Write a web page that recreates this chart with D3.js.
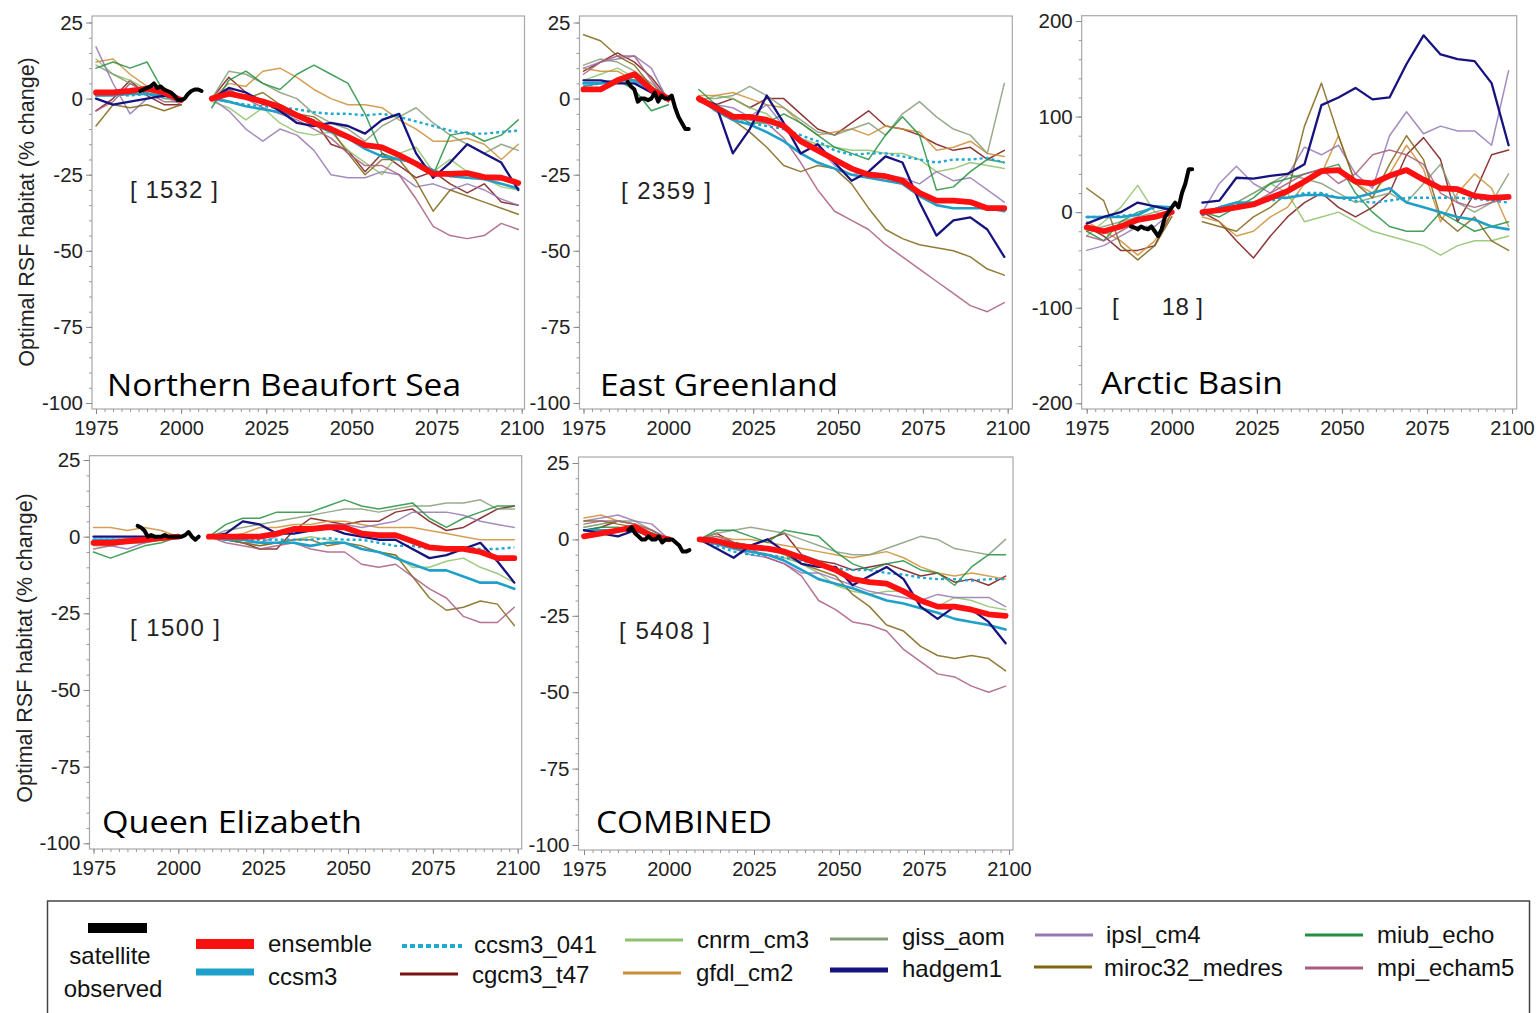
<!DOCTYPE html>
<html><head><meta charset="utf-8">
<script src="https://cdn.jsdelivr.net/npm/d3@7"></script>
<style>body{margin:0;background:#fff}svg{display:block}</style>
</head><body>
<svg id="chart" width="1537" height="1013"></svg>
<script>
// ---------------- DATA ----------------
const histYears = [1975, 1980, 1985, 1990, 1995, 2000];
const futYears = [2009, 2014, 2019, 2024, 2029, 2034, 2039, 2044, 2049, 2054, 2059, 2064, 2069, 2074, 2079, 2084, 2089, 2094, 2099];
const satYears = [1988, 1989, 1990, 1991, 1992, 1993, 1994, 1995, 1996, 1997, 1998, 1999, 2000, 2001, 2002, 2003, 2004, 2005, 2006];
const xTicks = [1975, 2000, 2025, 2050, 2075, 2100];
const yTicksPct = [-100, -75, -50, -25, 0, 25];
const yTicksArctic = [-200, -100, 0, 100, 200];

const seriesNames = ["ensemble", "ccsm3", "ccsm3_041", "cgcm3_t47", "cnrm_cm3", "gfdl_cm2", "giss_aom", "hadgem1", "ipsl_cm4", "miroc32_medres", "miub_echo", "mpi_echam5"];
const seriesColors = ["#ff1010", "#1ea0c8", "#1ea8d2", "#7a1414", "#8dc26a", "#cc8e34", "#869c78", "#17137e", "#9478b4", "#7f6414", "#22903e", "#a85c7e"];

const panelTitles = ["Northern Beaufort Sea", "East Greenland", "Arctic Basin", "Queen Elizabeth", "COMBINED"];
const panelCounts = ["[ 1532 ]", "[ 2359 ]", "[      18 ]", "[ 1500 ]", "[ 5408 ]"];

// Northern Beaufort Sea (hist 6 values, then future 19 values)
const nbs_ensemble = [2,2,2.5,3.3,2,-0.5, 0,1.6,0.5,-1,-2.7,-5.5,-8,-10,-12.6,-15.3,-16,-18.6,-21.4,-24.7,-24.7,-24.5,-25.8,-26,-27.7];
const nbs_ccsm3 = [1,1,1.5,1.5,1,0, 0,-1,-2.5,-3.5,-4.5,-6,-8.5,-11,-13,-16.5,-19,-20,-21,-23.5,-25.5,-26,-26.5,-28,-29.5];
const nbs_ccsm3_041 = [1,1.5,1,1.5,0.5,0, 0,-1,-2,-2.5,-3,-3.5,-4.5,-5,-5,-5.5,-5,-6,-7.5,-9,-10.5,-11.5,-11.5,-11,-10.5];
const nbs_cgcm3_t47 = [-4,0,6,1,-2,-2, 0,7,2,-2,-2,-5,-7,-15,-17,-24,-18,-22,-26,-24,-28,-31,-28,-34,-35];
const nbs_cnrm_cm3 = [13,8,6,3,0,-1, -1,-3,-7,-3,-8,-11,-12,-11,-17,-21,-25,-18,-16,-24,-20,-24,-26,-29,-30];
const nbs_gfdl_cm2 = [12,13,8,4,3,0, 0,5,4,9,10,7,3,0,-2,-2,-3,-7,-10,-14,-14,-13,-15,-20,-15];
const nbs_giss_aom = [11,8,5,2,0,0, 0,9,8,5,2,0,-5,-8,-10,-14,-9,-6,-3,-8,-12,-15,-18,-15,-17];
const nbs_hadgem1 = [0,-2,-1,0,1,0, 0,3.5,2,-1,-4,-8,-9,-8,-9,-11.5,-7,-5,-18,-26,-21,-15,-18,-21,-30];
const nbs_ipsl_cm4 = [17,5,-5,0,1,-2, 0,-4,-10,-14,-10,-12,-17,-25,-26,-26,-24,-25,-29,-28,-30,-28,-30,-33,-35];
const nbs_miroc32_medres = [-9,-2,-3,-2,-4,-2, 0,3,0,2,-2,-5,-6,-10,-18,-25,-20,-20,-27,-37,-30,-32,-34,-36,-38];
const nbs_miub_echo = [10,12,10,12,2,-1, -3,6,9,5,3,8,11,8,5,-5,-18,-20,-21,-25,-12,-11,-14,-12,-7];
const nbs_mpi_echam5 = [-4,-1,5,2,-1,-1, 0,3,0,-3,-5,-7,-10,-13,-18,-22,-22,-25,-33,-42,-45,-46,-45,-41,-43];
const nbs_satellite = [2.5,3,3.5,4,5,3.5,4,3,2.5,2,1,-0.5,-0.5,0,1.5,2.5,3,3,2.5];

// East Greenland
const eg_ensemble = [3,3,6,8,3,0, 0,-3,-6,-6,-7,-9,-14,-17,-20,-23,-25,-25.5,-27,-31,-33.5,-33.5,-34,-36,-36];
const eg_ccsm3 = [5,5,6,6,3,0, 0,-4,-7,-8.5,-11,-14,-18,-21,-23,-25,-26,-27,-28,-32,-35,-36,-36,-36,-37];
const eg_ccsm3_041 = [4,5,6,6,3,0, 0,-4,-7,-8,-9,-10,-12,-14,-17,-18.5,-18,-18,-19,-20,-21,-20,-20,-19.5,-21];
const eg_cgcm3_t47 = [9,12,15,12,7,0, 0,-2,0,-3,0,0,-5,-10,-12,-8,-4,-9,-10,-12,-15,-17,-16,-20,-17];
const eg_cnrm_cm3 = [6,8,10,7,2,-1, -1,1,0,-3,-5,-10,-13,-15,-16,-17,-17,-18,-18,-20,-24,-23,-21,-22,-23];
const eg_gfdl_cm2 = [10,9,9,6,4,0, 1,1,2,0,-2,-3,-8,-12,-11,-10,-12,-9,-10,-11,-17,-16,-14,-18,-19];
const eg_giss_aom = [11,13,12,9,5,0, 0,0,1,4,1,-3,-7,-11,-12,-10,-8,-12,-5,-1,-6,-10,-12,-18,5];
const eg_hadgem1 = [6,6,5,5,2,0, 0,-2,-18,-10,1,-8,-18,-15,-21,-27,-24,-19,-21,-34,-45,-40,-39,-43,-52];
const eg_ipsl_cm4 = [10,12,13,14,10,-1, 0,-2,-3,-6,-2,-9,-13,-16,-22,-25,-24,-25,-26,-28,-24,-27,-26,-30,-34];
const eg_miroc32_medres = [21,19,14,11,4,-1, 0,-3,-7,-11,-16,-22,-24,-22,-23,-28,-36,-43,-46,-48,-49,-50,-52,-56,-58];
const eg_miub_echo = [4,5,6,3,-4,-2, 3,-2,-5,-8,-8,-5,-8,-12,-16,-18,-20,-12,-6,-12,-30,-29,-24,-20,-21];
const eg_mpi_echam5 = [8,12,14,14,6,-1, -1,-3,-6,-7,-8,-13,-21,-30,-37,-40,-43,-48,-52,-56,-60,-64,-68,-70,-67];
const eg_satellite = [5.5,4,3,-1,0,0,-0.5,0,2,-1,1,0,0,1,-3,-6,-8,-10,-10];

// Arctic Basin
const ab_ensemble = [-16,-20,-15,-8,-5,0, 0,2,5,8,15,22,32,43,44,32,30,38,44,34,25,24,17,15,16];
const ab_ccsm3 = [-5,-5,-5,-3,6,5, -3,5,10,10,15,15,18,18,15,15,20,25,10,5,0,-5,-8,-15,-18];
const ab_ccsm3_041 = [-5,-5,-4,-2,5,5, -3,5,8,10,12,15,20,20,15,12,10,12,15,15,15,15,14,12,10];
const ab_cgcm3_t47 = [-15,-25,-40,-40,-35,0, 0,-10,-30,-48,-25,-5,10,20,5,-5,5,20,60,78,55,-10,20,60,65];
const ab_cnrm_cm3 = [-25,-10,5,28,0,-5, 0,0,10,20,30,20,-10,-5,0,-10,-20,-25,-30,-35,-45,-35,-30,-30,-25];
const ab_gfdl_cm2 = [-10,-20,-30,-45,-30,0, -5,-10,-25,-20,-5,5,30,40,80,30,20,40,70,45,-10,20,40,25,-15];
const ab_giss_aom = [-20,-15,-10,-5,0,5, 0,5,10,20,30,40,35,30,20,10,15,20,10,30,50,10,0,10,40];
const ab_hadgem1 = [-12,-5,0,10,6,2, 10,12,36,35,38,40,50,112,120,130,118,120,155,185,165,160,158,135,70];
const ab_ipsl_cm4 = [-40,-35,-25,-15,-15,0, 0,30,48,30,20,38,68,60,70,40,25,80,105,82,90,85,85,70,148];
const ab_miroc32_medres = [25,12,-35,-50,-35,-5, -10,-15,-20,-5,5,20,90,135,80,30,15,50,80,55,-5,-20,-5,-30,-40];
const ab_miub_echo = [-20,-30,-10,0,5,5, 0,-5,5,15,30,35,40,45,50,20,0,-15,-20,-20,0,-10,-20,-15,-10];
const ab_mpi_echam5 = [-25,-30,-20,-10,-5,0, 0,5,5,10,20,30,40,45,30,40,60,65,60,50,20,10,5,10,15];
const ab_satellite = [-15,-16,-18,-15,-17,-18,-15,-20,-25,-18,-5,0,5,10,5,20,30,45,45];

// Queen Elizabeth
const qe_ensemble = [-2,-2,-1.5,-1,-0.5,0, 0,0,0,0,1,2.5,2.5,3,3,1,0.5,0.5,-1.5,-3.5,-4,-4,-5,-7,-7];
const qe_ccsm3 = [-1,-1,-1,-1,0,0, 0,-1,-1,-2,-2,-2,-3,-2,-2,-4,-5,-7,-9,-11,-11,-13,-15,-15,-17];
const qe_ccsm3_041 = [-1,-1,-1,-0.5,0,0, 0,-0.5,-1,-1,-1,-1,-1,-0.5,-1,-1,-2,-3,-3,-4,-3.5,-3.5,-4,-4,-3.5];
const qe_cgcm3_t47 = [-1,-2,-1,0,-1,0, 0,-1,-2,-4,-4,2,6,5,4,5,5,8,9,5,2,3,6,9,10];
const qe_cnrm_cm3 = [-3,-3,-2,-2,-1,0, 0,-1,-2,-3,-2,-1,0,-1,-2,-4,-5,-6,-10,-10,-8,-7,-10,-12,-15];
const qe_gfdl_cm2 = [3,3,2,3,2,0, 0,0,1,3,3,4,4,5,5,4,3,3,3,2,1,0,-1,-1,-1];
const qe_giss_aom = [-2,-2,-1,-1,0,0, 0,2,3,4,5,6,7,8,9,9,8,9,10,10,11,11,12,9,9];
const qe_hadgem1 = [0,0,0,0,0,0, 0,1,5,4,1,1,2,3,1,0,-1,-1,-4,-7,-6,-4,-2,-8,-15];
const qe_ipsl_cm4 = [-2,-3,-4,-2,0,0, 0,-1,-2,-2,0,2,3,4,4,3,4,5,8,8,8,7,5,4,3];
const qe_miroc32_medres = [-2,-2,-2,-1,-1,0, 0,-1,-2,-3,-2,-1,-1,-3,-2,-3,-5,-6,-13,-20,-24,-23,-21,-22,-29];
const qe_miub_echo = [-5,-7,-5,-3,-2,0, 0,4,6,6,8,8,8,10,12,10,9,10,11,6,3,6,8,10,10];
const qe_mpi_echam5 = [-4,-3,-2,-2,-1,0, 0,-2,-3,-4,-3,-2,-4,-5,-5,-9,-10,-9,-13,-17,-20,-26,-28,-28,-23];
const qe_satellite = [3.5,3,2,0,0.5,0,0,0,0.5,0,0,0,0,0,0.5,1.5,0,-1,0];

// COMBINED
const cb_ensemble = [1,2,3,4,1,0, 0,-0.5,-2,-2.5,-3,-4,-6,-8,-10,-13,-14,-14.5,-17,-20,-22,-22,-23,-24.5,-25];
const cb_ccsm3 = [3,3,3,3,1,0, 0,-1.5,-3,-4,-5,-7,-10,-13,-14.5,-16,-18,-20,-21,-22.5,-24,-26,-27,-28,-29.5];
const cb_ccsm3_041 = [3,3,3,3,1,0, 0,-2,-4,-5,-5,-6,-7,-8,-9.5,-10,-10,-11,-11.5,-12.5,-13,-13,-13.5,-13,-13];
const cb_cgcm3_t47 = [3,4,6,5,2,0, 0,2,-1,-2,0,2,-5,-7,-8,-10,-9,-8,-10,-12,-11,-14,-13,-15,-12];
const cb_cnrm_cm3 = [4,5,6,5,2,0, 0,0,-2,-4,-5,-6,-8,-11,-15,-17,-18,-17,-17,-20,-22,-19,-20,-22,-23];
const cb_gfdl_cm2 = [7,8,6,5,3,0, 0,1,0,0,-1,-2,-3,-4,-5,-6,-5,-4,-6,-9,-11,-12,-11,-12,-13];
const cb_giss_aom = [4,5,6,6,3,0, 0,2,3,4,3,2,0,-2,-4,-5,-5,-3,-1,1,0,-3,-4,-5,0];
const cb_hadgem1 = [3,2,1,3,1,0, 0,-3,-6,-2,0,-4,-8,-9,-9,-15,-12,-9,-13,-22,-26,-22,-23,-27,-34];
const cb_ipsl_cm4 = [6,7,8,6,5,0, 0,-1,-3,-5,-6,-8,-11,-11,-13,-15,-17,-18,-19,-20,-18,-19,-19,-19,-22];
const cb_miroc32_medres = [6,6,5,4,2,0, 0,0,-1,-2,-3,-5,-8,-10,-12,-18,-22,-28,-30,-35,-38,-39,-38,-39,-43];
const cb_miub_echo = [3,4,4,3,2,0, 0,3,3,1,-1,3,2,1,-4,-8,-10,-8,-7,-10,-11,-15,-9,-5,-5];
const cb_mpi_echam5 = [5,6,6,5,3,0, 0,1,-1,-3,-6,-8,-12,-20,-23,-27,-28,-30,-36,-40,-44,-45,-48,-50,-48];
const cb_satellite = [3,4,2,1,0,0,1,0,0,1,-1,0,0,0,-1,-2,-4,-4,-3.5];

// tables built from the named arrays (legend order)
const panelSeries = [
  [nbs_ensemble, nbs_ccsm3, nbs_ccsm3_041, nbs_cgcm3_t47, nbs_cnrm_cm3, nbs_gfdl_cm2, nbs_giss_aom, nbs_hadgem1, nbs_ipsl_cm4, nbs_miroc32_medres, nbs_miub_echo, nbs_mpi_echam5],
  [eg_ensemble, eg_ccsm3, eg_ccsm3_041, eg_cgcm3_t47, eg_cnrm_cm3, eg_gfdl_cm2, eg_giss_aom, eg_hadgem1, eg_ipsl_cm4, eg_miroc32_medres, eg_miub_echo, eg_mpi_echam5],
  [ab_ensemble, ab_ccsm3, ab_ccsm3_041, ab_cgcm3_t47, ab_cnrm_cm3, ab_gfdl_cm2, ab_giss_aom, ab_hadgem1, ab_ipsl_cm4, ab_miroc32_medres, ab_miub_echo, ab_mpi_echam5],
  [qe_ensemble, qe_ccsm3, qe_ccsm3_041, qe_cgcm3_t47, qe_cnrm_cm3, qe_gfdl_cm2, qe_giss_aom, qe_hadgem1, qe_ipsl_cm4, qe_miroc32_medres, qe_miub_echo, qe_mpi_echam5],
  [cb_ensemble, cb_ccsm3, cb_ccsm3_041, cb_cgcm3_t47, cb_cnrm_cm3, cb_gfdl_cm2, cb_giss_aom, cb_hadgem1, cb_ipsl_cm4, cb_miroc32_medres, cb_miub_echo, cb_mpi_echam5]
];
const panelSatellite = [nbs_satellite, eg_satellite, ab_satellite, qe_satellite, cb_satellite];

// ---------------- LAYOUT ----------------
const layout = [
  {ax:92,   fr:524.5, top:16,   bot:409, x0:96,    x1:521.7,  yd:[-100,25],  yr:[403,22.5], ticks:yTicksPct,    minor:5,  tx:107,  ty:396, tw:354, cx:130,  cy:198, cw:88,  ytitle:[34,212]},
  {ax:579.5,fr:1012.3,top:16,   bot:409, x0:583.5, x1:1007.7, yd:[-100,25],  yr:[403,22.5], ticks:yTicksPct,    minor:5,  tx:600,  ty:396, tw:238, cx:621,  cy:199, cw:90,  ytitle:null},
  {ax:1081.7,fr:1516.7,top:15.7,bot:409, x0:1086.7,x1:1512,   yd:[-200,200], yr:[403.3,21], ticks:yTicksArctic, minor:20, tx:1101, ty:394, tw:182, cx:1112, cy:315, cw:91,  ytitle:null},
  {ax:89.5, fr:521.7, top:455.7,bot:849, x0:93.5,  x1:517.7,  yd:[-100,25],  yr:[843.3,460], ticks:yTicksPct,   minor:5,  tx:102,  ty:833, tw:260, cx:130,  cy:636, cw:90,  ytitle:[32,648]},
  {ax:578.5,fr:1013,  top:457,  bot:850, x0:584,   x1:1009,   yd:[-100,25],  yr:[845,463],  ticks:yTicksPct,    minor:5,  tx:596,  ty:833, tw:176, cx:619,  cy:639, cw:91,  ytitle:null}
];

const svg = d3.select("#chart");
const numFont = "'Liberation Sans', Arial, sans-serif";
const titleFont = "'Open Sans', 'Noto Sans', sans-serif";
const plainFormat = d => String(d);

const thinIdx = [3,4,5,6,8,9,10,11];

layout.forEach((L, p) => {
  const g = svg.append("g");
  const x = d3.scaleLinear().domain([1975, 2100]).range([L.x0, L.x1]);
  const y = d3.scaleLinear().domain(L.yd).range(L.yr);

  // frame
  g.append("rect").attr("x", L.ax).attr("y", L.top).attr("width", L.fr - L.ax).attr("height", L.bot - L.top)
    .attr("fill", "#fff").attr("stroke", "#a8a8a8").attr("stroke-width", 1.2);

  // left axis
  const yMinor = d3.range(L.yd[0], L.yd[1] + 0.001, L.minor);
  g.append("g").attr("transform", `translate(${L.ax},0)`)
    .call(d3.axisLeft(y).tickValues(yMinor).tickSize(3).tickFormat(""))
    .call(s => { s.select(".domain").remove(); s.selectAll("line").attr("stroke", "#999"); });
  g.append("g").attr("transform", `translate(${L.ax},0)`)
    .call(d3.axisLeft(y).tickValues(L.ticks).tickSize(6).tickPadding(3).tickFormat(plainFormat))
    .call(s => {
      s.select(".domain").remove();
      s.selectAll("line").attr("stroke", "#888");
      s.selectAll("text").attr("font-family", numFont).attr("font-size", 20.5).attr("fill", "#222");
    });

  // bottom axis
  const xMinor = d3.range(1975, 2100.01, 2.5);
  g.append("g").attr("transform", `translate(0,${L.bot})`)
    .call(d3.axisBottom(x).tickValues(xMinor).tickSize(3).tickFormat(""))
    .call(s => { s.select(".domain").remove(); s.selectAll("line").attr("stroke", "#999"); });
  g.append("g").attr("transform", `translate(0,${L.bot})`)
    .call(d3.axisBottom(x).tickValues(xTicks).tickSize(5).tickPadding(7).tickFormat(plainFormat))
    .call(s => {
      s.select(".domain").remove();
      s.selectAll("line").attr("stroke", "#888");
      s.selectAll("text").attr("font-family", numFont).attr("font-size", 20).attr("fill", "#222");
    });

  const line = d3.line().x(d => x(d[0])).y(d => y(d[1]));
  const nh = histYears.length;
  function segs(vals) {
    return [histYears.map((yr, i) => [yr, vals[i]]), futYears.map((yr, i) => [yr, vals[nh + i]])];
  }
  function draw(idx, width, opts) {
    const vals = panelSeries[p][idx];
    segs(vals).forEach(seg => {
      const path = g.append("path").attr("d", line(seg)).attr("fill", "none")
        .attr("stroke", seriesColors[idx]).attr("stroke-width", width)
        .attr("stroke-linejoin", "round").attr("stroke-linecap", "round");
      if (opts && opts.dash) path.attr("stroke-dasharray", opts.dash).attr("stroke-linecap", "butt");
      if (opts && opts.opacity) path.attr("stroke-opacity", opts.opacity);
    });
  }
  thinIdx.forEach(i => draw(i, 1.5, {opacity: 0.85}));
  draw(2, 2.4, {dash: "3,3"});
  draw(1, 2.6);
  draw(7, 2.3);
  draw(0, 5.8);

  // satellite observed
  g.append("path").attr("d", line(satYears.map((yr, i) => [yr, panelSatellite[p][i]])))
    .attr("fill", "none").attr("stroke", "#000").attr("stroke-width", 4)
    .attr("stroke-linejoin", "round").attr("stroke-linecap", "round");

  // titles
  g.append("text").attr("x", L.tx).attr("y", L.ty).text(panelTitles[p])
    .attr("font-family", titleFont).attr("font-size", 31).attr("fill", "#000")
    .attr("textLength", L.tw).attr("lengthAdjust", "spacingAndGlyphs");
  g.append("text").attr("x", L.cx).attr("y", L.cy).text(panelCounts[p])
    .attr("font-family", numFont).attr("font-size", 24).attr("fill", "#222")
    .style("white-space", "pre")
    .attr("textLength", L.cw).attr("lengthAdjust", "spacing");

  if (L.ytitle) {
    svg.append("text").attr("transform", `translate(${L.ytitle[0]},${L.ytitle[1]}) rotate(-90)`)
      .attr("text-anchor", "middle").text("Optimal RSF habitat (% change)")
      .attr("font-family", numFont).attr("font-size", 21.5).attr("fill", "#222");
  }
});

// ---------------- LEGEND ----------------
const leg = svg.append("g");
leg.append("rect").attr("x", 47.5).attr("y", 901).attr("width", 1482).attr("height", 140)
  .attr("fill", "#fff").attr("stroke", "#444").attr("stroke-width", 1.5);

const legendPos = [
  // [seriesIndex, x1, x2, y, width, labelX, labelY]
  [0, 196, 254, 944, 10, 268, 944],
  [1, 196, 254, 972, 7, 268, 977],
  [2, 402, 462, 946, 4, 474, 945],
  [3, 400, 458, 974, 3, 472, 975],
  [4, 625, 683, 940, 3, 697, 940],
  [5, 623, 681, 973, 3, 696, 973],
  [6, 830, 888, 939, 3, 902, 937],
  [7, 830, 888, 970, 5, 902, 969],
  [8, 1035, 1093, 935, 3, 1106, 935],
  [9, 1034, 1092, 967, 3, 1104, 968],
  [10, 1305, 1363, 935, 3, 1377, 935],
  [11, 1305, 1363, 968, 3, 1377, 968]
];
legendPos.forEach(([i, xa, xb, yy, w, lx, ly]) => {
  const l = leg.append("line").attr("x1", xa).attr("x2", xb).attr("y1", yy).attr("y2", yy)
    .attr("stroke", seriesColors[i]).attr("stroke-width", w);
  if (i === 2) l.attr("stroke-dasharray", "5,3");
  leg.append("text").attr("x", lx).attr("y", ly).attr("dy", "0.35em").text(seriesNames[i])
    .attr("font-family", numFont).attr("font-size", 24).attr("fill", "#111");
});
leg.append("rect").attr("x", 88).attr("y", 923).attr("width", 59).attr("height", 10).attr("fill", "#000");
leg.append("text").attr("x", 110).attr("y", 956).attr("dy", "0.35em").attr("text-anchor", "middle")
  .text("satellite").attr("font-family", numFont).attr("font-size", 24).attr("fill", "#111");
leg.append("text").attr("x", 113).attr("y", 989).attr("dy", "0.35em").attr("text-anchor", "middle")
  .text("observed").attr("font-family", numFont).attr("font-size", 24).attr("fill", "#111");
</script>
</body></html>
